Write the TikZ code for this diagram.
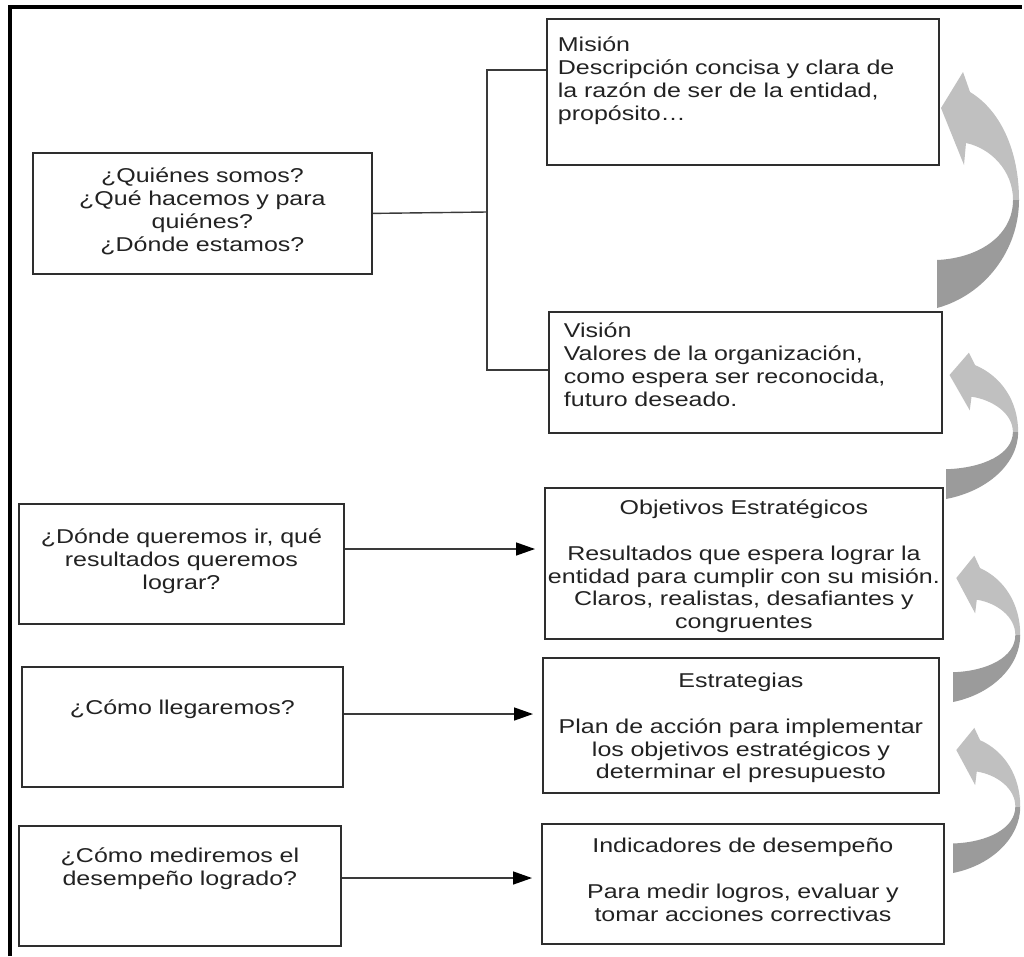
\documentclass[tikz,border=0pt]{standalone}
\usepackage{fontspec}
\setmainfont{Liberation Sans}[FakeStretch=1.25]
\usetikzlibrary{arrows.meta}
\definecolor{BoxLine}{HTML}{2E2E2E}
\definecolor{LinkLine}{HTML}{3A3A3A}
\definecolor{InkText}{HTML}{222222}
\definecolor{BendLight}{HTML}{C0C0C0}
\definecolor{BendDark}{HTML}{9B9B9B}
\tikzset{
  cell/.style={draw=BoxLine, line width=1.8pt, anchor=north west, inner xsep=0pt, inner ysep=0pt,
               text=InkText, font=\fontsize{20pt}{22.7pt}\selectfont},
  link/.style={line width=1.4pt, draw=LinkLine},
  flow/.style={link, -{Triangle[length=19pt, width=13pt, color=black]}, shorten >=9pt},
  frame/.style={line width=4pt, draw=black},
}

\begin{document}
\begin{tikzpicture}[x=1pt, y=-1pt]
\useasboundingbox (0,0) rectangle (1024,956);
% outer frame: only its top and left edges fall inside the picture
\draw[frame] (10,956) -- (10,7) -- (1022,7);

% ===================== left column: the questions
\node[cell, text width=339pt, text height=30pt, text depth=91pt, align=center] (quienes) at (32,152)
  {¿Quiénes somos?\\¿Qué hacemos y para\\quiénes?\\¿Dónde estamos?};
\node[cell, text width=325pt, text height=40pt, text depth=80pt, align=center] (donde) at (18,503)
  {¿Dónde queremos ir, qué\\resultados queremos\\lograr?};
\node[cell, text width=321pt, text height=48pt, text depth=72pt, align=center] (como) at (21,666)
  {¿Cómo llegaremos?};
\node[cell, text width=322pt, text height=37pt, text depth=83pt, align=center] (medir) at (18,825)
  {¿Cómo mediremos el\\desempeño logrado?};

% ===================== right column: the answers
\node[cell, text width=370pt, inner xsep=11pt, text height=33pt, text depth=113pt, align=left] (mision) at (546,18)
  {Misión\\Descripción concisa y clara de\\la razón de ser de la entidad,\\propósito…};
\node[cell, text width=363pt, inner xsep=15pt, text height=26pt, text depth=95pt, align=left] (vision) at (548,311)
  {Visión\\Valores de la organización,\\como espera ser reconocida,\\futuro deseado.};
\node[cell, text width=398pt, text height=27pt, text depth=124pt, align=center] (objetivos) at (544,487)
  {Objetivos Estratégicos\\[22.7pt]Resultados que espera lograr la\\entidad para cumplir con su misión.\\Claros, realistas, desafiantes y\\congruentes};
\node[cell, text width=396pt, text height=30pt, text depth=105pt, align=center] (estrategias) at (542,657)
  {Estrategias\\[22.7pt]Plan de acción para implementar\\los objetivos estratégicos y\\determinar el presupuesto};
\node[cell, text width=402pt, text height=29pt, text depth=91pt, align=center] (indicadores) at (541,823)
  {Indicadores de desempeño\\[22.7pt]Para medir logros, evaluar y\\tomar acciones correctivas};

% ===================== connectors
\coordinate (split) at (487,212);
\draw[link] (quienes.east) -- (split);
\draw[link] (mision.west |- 0,70) -| (split) |- (vision.west |- 0,370);
\draw[flow] (donde.east |- 0,549) -- (objetivos.west |- 0,549);
\draw[flow] (como.east |- 0,714) -- (estrategias.west |- 0,714);
\draw[flow] (medir.east |- 0,878) -- (indicadores.west |- 0,878);

% ===================== curved return arrows, light front and dark back
\foreach \tx/\ty/\sx/\sy in {937/308/1/1, 946/499/0.88/0.62, 953/702/0.82/0.62, 953/873/0.82/0.615}{
  \begin{scope}[shift={(\tx,\ty)}, xscale=\sx, yscale=-\sy]
    \fill[BendLight] (82,108) .. controls (82,158) and (63,198) .. (33,216) -- (26,236) -- (4,200)
      -- (27,143) -- (29,165) .. controls (53,160) and (76,138) .. (76,108) -- cycle;
    \fill[BendDark] (82,108) .. controls (82,58) and (48,13) .. (0,0) -- (0,48)
      .. controls (43,50) and (76,73) .. (76,108) -- cycle;
  \end{scope}
}
\end{tikzpicture}
\end{document}
